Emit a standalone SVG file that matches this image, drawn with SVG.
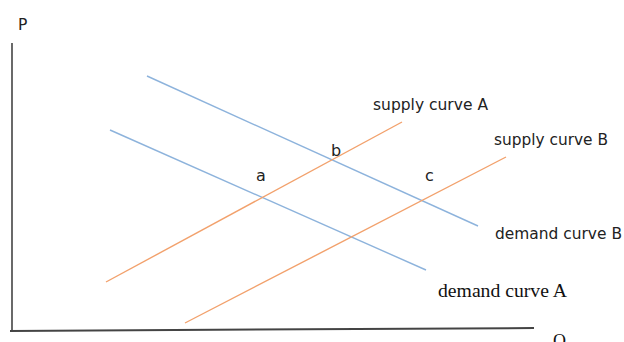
<svg xmlns="http://www.w3.org/2000/svg" width="624" height="342" viewBox="0 0 624 342">
<style>
.demand{stroke:#8db3dc;stroke-width:1.4;fill:none}
.supply{stroke:#f2a16c;stroke-width:1.4;fill:none}
.axis{stroke:#444;fill:none}
.sans{font-family:"DejaVu Sans",sans-serif;font-size:15.5px;fill:#222}
.pt{font-family:"DejaVu Sans",sans-serif;font-size:16px;fill:#222}
.serif{font-family:"Liberation Serif",serif;font-size:18px;fill:#111}
</style>
<rect width="624" height="342" fill="#fff"/>
<g id="axes">
<line class="axis" x1="12" y1="43" x2="12" y2="331" stroke-width="1.6"/>
<line class="axis" x1="10" y1="331" x2="534" y2="328" stroke="#666" stroke-width="2"/>
<text class="sans" x="18" y="30">P</text>
<text class="serif" x="553" y="347">Q</text>
</g>
<g id="connectors">
<line id="demandB" class="demand" x1="147" y1="76" x2="478" y2="226"/>
<line id="demandA" class="demand" x1="110" y1="130" x2="426" y2="270"/>
<line id="supplyA" class="supply" x1="106" y1="282" x2="402" y2="122"/>
<line id="supplyB" class="supply" x1="185" y1="323" x2="506" y2="157"/>
</g>
<g id="labels">
<text class="sans" x="373" y="110" textLength="115" lengthAdjust="spacingAndGlyphs">supply curve A</text>
<text class="sans" x="494" y="145" textLength="114" lengthAdjust="spacingAndGlyphs">supply curve B</text>
<text class="sans" x="495" y="239" textLength="127" lengthAdjust="spacingAndGlyphs">demand curve B</text>
<text class="serif" x="438" y="297" textLength="129" lengthAdjust="spacingAndGlyphs">demand curve A</text>
<text class="pt" x="256" y="181">a</text>
<text class="pt" x="331" y="156">b</text>
<text class="pt" x="425" y="181">c</text>
</g>
</svg>
